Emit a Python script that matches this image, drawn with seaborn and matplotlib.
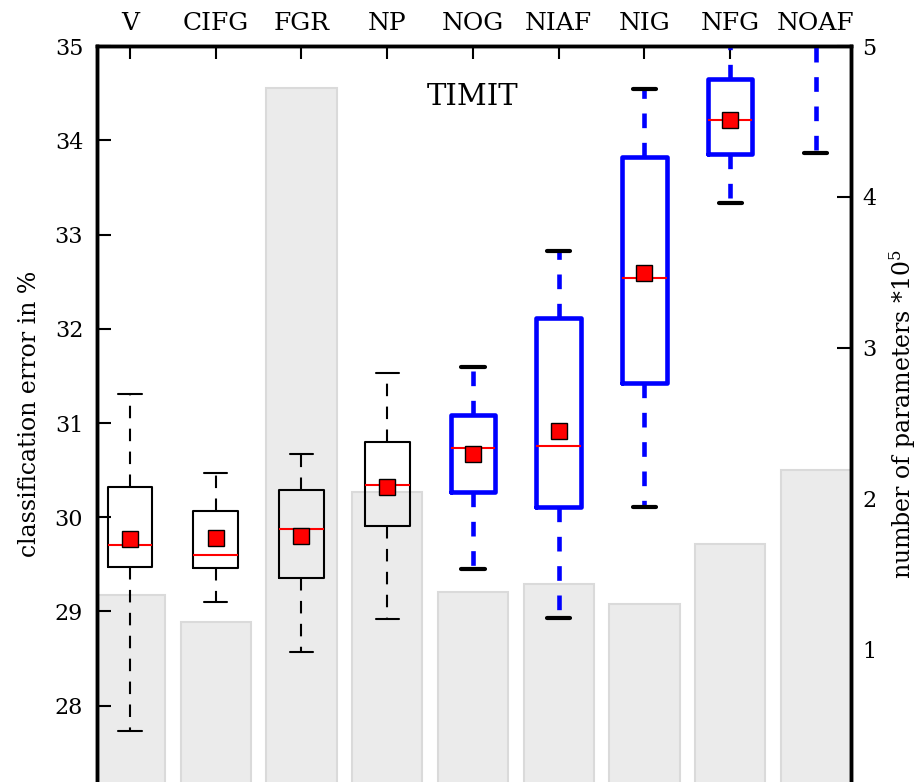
import numpy as np
import pandas as pd
import matplotlib.pyplot as plt
import seaborn as sns

# LSTM variants and their classification error stats (TIMIT)
variants = ["V", "CIFG", "FGR", "NP", "NOG", "NIAF", "NIG", "NFG", "NOAF"]
n_params = [1.36, 1.18, 4.72, 2.04, 1.38, 1.43, 1.30, 1.70, 2.19]  # *10^5

whislo = [27.73, 29.10, 28.57, 28.92, 29.45, 28.93, 30.11, 33.33, 33.87]
q1 = [29.47, 29.46, 29.36, 29.91, 30.27, 30.11, 31.42, 33.85, 35.30]
med = [29.71, 29.60, 29.88, 30.34, 30.73, 30.76, 32.54, 34.22, 35.60]
q3 = [30.32, 30.07, 30.29, 30.80, 31.09, 32.11, 33.82, 34.65, 35.90]
whishi = [31.31, 30.47, 30.67, 31.53, 31.59, 32.83, 34.54, 35.40, 36.30]
means = [29.77, 29.78, 29.80, 30.32, 30.67, 30.91, 32.59, 34.22, 35.60]
significant = [False, False, False, False, True, True, True, True, True]

sns.set_style("ticks")
plt.rcParams["font.family"] = ["DejaVu Serif"]
plt.rcParams["mathtext.fontset"] = "dejavuserif"
for k in ["text.color", "axes.labelcolor", "xtick.color", "ytick.color", "axes.edgecolor"]:
    plt.rcParams[k] = "black"

fig = plt.figure(figsize=(9.24, 7.82), dpi=100)
ax = fig.add_axes([0.105, 0.0, 0.816, 0.941])
ax2 = ax.twinx()

# parameter counts as grey bars in the background
sns.barplot(x=variants, y=n_params, ax=ax2, color="#ebebeb", saturation=1,
            width=0.82, edgecolor="#dadada", linewidth=1.5)
ax.set_zorder(ax2.get_zorder() + 1)
ax.patch.set_visible(False)

for i, name in enumerate(variants):
    st = dict(label=name, whislo=whislo[i], q1=q1[i], med=med[i], q3=q3[i],
              whishi=whishi[i], mean=means[i], fliers=[])
    if significant[i]:
        col, lw, dash, caplw = "blue", 3.3, (3.2, 3.2), 3.0
    else:
        col, lw, dash, caplw = "black", 1.5, (6, 5), 1.5
    ax.bxp([st], positions=[i], widths=0.52, showmeans=True, manage_ticks=False,
           boxprops=dict(color=col, linewidth=lw),
           whiskerprops=dict(color=col, linewidth=lw, linestyle=(0, dash)),
           capprops=dict(color="black", linewidth=caplw),
           medianprops=dict(color="red", linewidth=1.5),
           meanprops=dict(marker="s", markerfacecolor="red", markeredgecolor="black",
                          markersize=11, markeredgewidth=1),
           capwidths=0.27)

ax.set_xlim(-0.385, 8.41)
ax.set_ylim(27.19, 35)
ax.set_yticks(range(28, 36))
ax.xaxis.tick_top()
ax.set_xticks(range(len(variants)))
ax.set_xticklabels(variants, fontsize=18)
ax.tick_params(axis="x", direction="in", length=9, width=1.5, pad=8)
ax.tick_params(axis="y", direction="in", length=10, width=1.5, labelsize=16, pad=10)
ax.set_ylabel("classification error in %", fontsize=17, labelpad=10)

ax2.set_ylim(0.12, 5)
ax2.set_yticks([1, 2, 3, 4, 5])
ax2.tick_params(axis="y", direction="in", length=10, width=1.5, labelsize=16, pad=8)
ax2.tick_params(axis="x", bottom=False, labelbottom=False, top=False)
ax2.set_xlabel("")
ax2.set_ylabel(r"number of parameters $*10^5$", fontsize=17, labelpad=8)

for a in (ax, ax2):
    for s in a.spines.values():
        s.set_linewidth(2.5)
        s.set_color("black")
    a.spines["bottom"].set_visible(False)

ax.text(4, 34.46, "TIMIT", fontsize=21, ha="center", va="center")

fig.savefig("out.png", dpi=100)
